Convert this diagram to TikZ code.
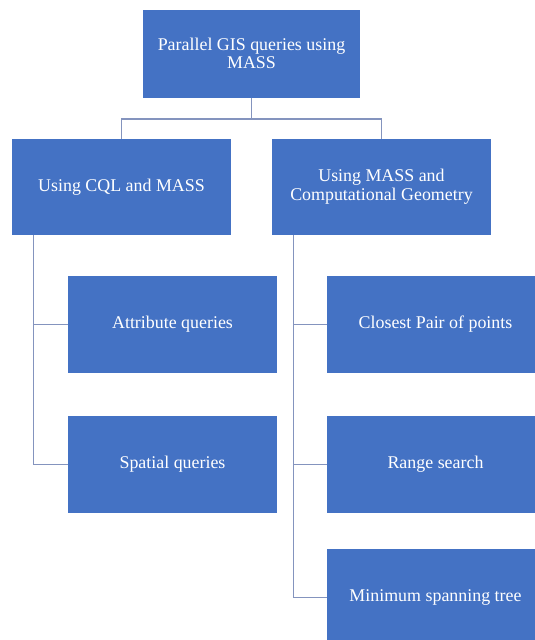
\documentclass[tikz,border=0pt]{standalone}
\usepackage{fontspec}
\setmainfont{Liberation Serif}
\usepackage{tikz}
\usetikzlibrary{positioning}
\definecolor{BoxBlue}{RGB}{68, 114, 196}
\definecolor{LinkBlue}{RGB}{132, 148, 190}

\begin{document}
\begin{tikzpicture}[
    box/.style={rectangle, fill=BoxBlue, text=white, align=center, inner sep=2pt, outer sep=0pt,
      font=\fontsize{17.9}{18.5}\selectfont},
    topbox/.style={box, minimum width=217pt, minimum height=88pt},
    groupbox/.style={box, minimum width=219pt, minimum height=96.5pt},
    leafbox/.style={box, minimum width=209pt, minimum height=97pt},
    rightleaf/.style={box, minimum width=217pt, minimum height=97pt},
    link/.style={draw=LinkBlue, line width=1.1pt}
  ]
    \clip (0,0) rectangle (535pt,-640pt);

    \node[topbox, anchor=north west] (root) at (143pt,-9.5pt) {Parallel GIS queries using\\MASS};
    \node[groupbox, below=41pt of root, xshift=-130pt] (cql) {Using CQL and MASS};
    \node[groupbox, below=41pt of root, xshift=130pt] (geo) {Using MASS and\\Computational Geometry};

    \node[leafbox, below=41pt of cql, xshift=51pt] (attr) {Attribute queries};
    \node[leafbox, below=43pt of attr] (spatial) {Spatial queries};

    \node[rightleaf, below=41pt of geo, xshift=54pt] (closest) {Closest Pair of points};
    \node[rightleaf, below=43pt of closest] (range) {Range search};
    \node[rightleaf, below=36pt of range] (mst) {Minimum spanning tree};

    \draw[link] (root.south) -- ++(0,-21.5pt) -| (cql.north);
    \draw[link] (root.south) -- ++(0,-21.5pt) -| (geo.north);

    \draw[link] ([xshift=21.5pt]cql.south west) |- (attr.west);
    \draw[link] ([xshift=21.5pt]cql.south west) |- (spatial.west);

    \draw[link] ([xshift=21.5pt]geo.south west) |- (closest.west);
    \draw[link] ([xshift=21.5pt]geo.south west) |- (range.west);
    \draw[link] ([xshift=21.5pt]geo.south west) |- (mst.west);
  \end{tikzpicture}
\end{document}
